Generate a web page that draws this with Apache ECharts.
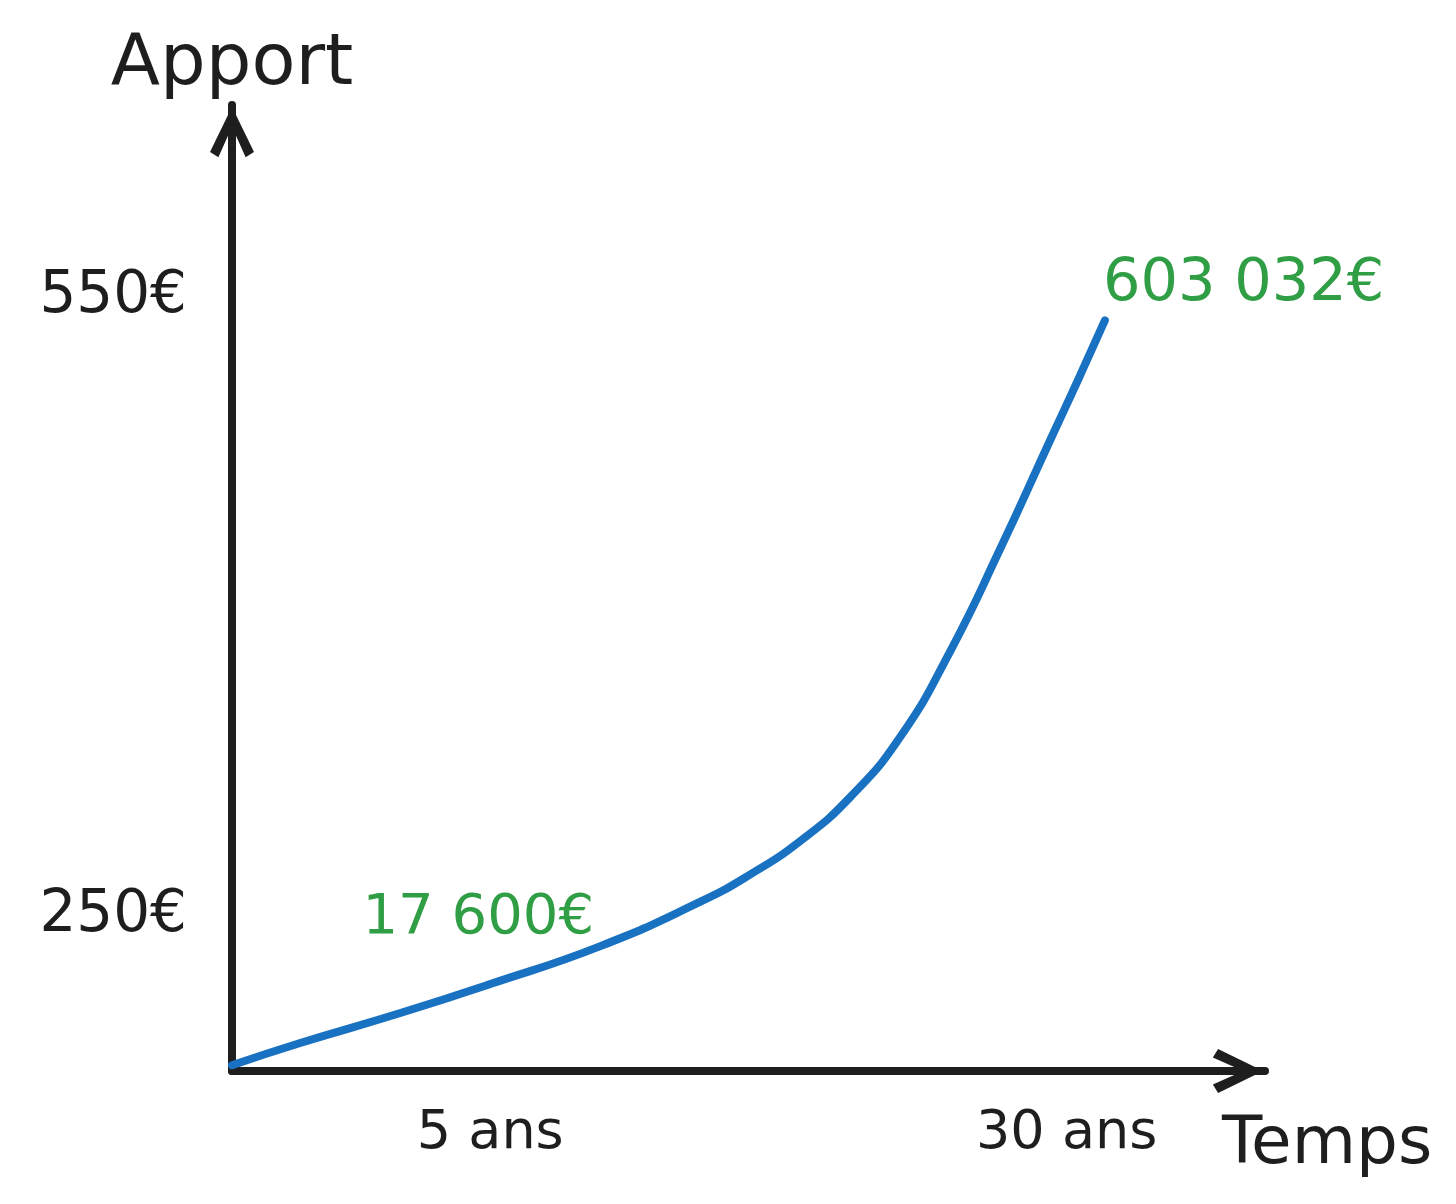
<!DOCTYPE html>
<html>
<head>
<meta charset="utf-8">
<title>Apport / Temps</title>
<script src="https://cdn.jsdelivr.net/npm/echarts@6/dist/echarts.min.js"></script>
<style>
  html, body { margin: 0; padding: 0; background: #fff; }
  #chart { width: 1456px; height: 1204px; }
</style>
</head>
<body>
<div id="chart"></div>
<script>
// time runs 0..100 along the arrow, apport 0..100 up the arrow (sketch units)
const timeX = [0, 6.6, 16.3, 25, 35.6, 45.3, 50.1, 55.0, 59.8, 64.7, 69.5, 74.3, 79.2, 82.1, 84.5];
const apportY = [0.6, 2.9, 6.0, 9.0, 12.9, 17.5, 20.3, 23.8, 28.3, 34.6, 43.4, 53.9, 65.3, 72.0, 77.7];

const xTickValues = [25, 80.8];
const xTickLabels = ['5 ans', '30 ans'];
const yTickValues = [16.1, 80.1];
const yTickLabels = ['250€', '550€'];

const startLabel = '17 600€';
const endLabel = '603 032€';

const ink = '#1e1e1e';
const green = '#2f9e44';
const blue = '#1971c2';
const font = 'DejaVu Sans';

// open chevron head, pointing up (echarts turns it along the axis)
const chevron = 'path://M21,0 L42,43 L34,48 L21,19 L8,48 L0,43 Z';

const points = timeX.map((x, i) => [x, apportY[i]]);

let myCharts = echarts.init(document.getElementById('chart'));
let option = {
  animation: false,
  backgroundColor: '#fff',
  textStyle: { fontFamily: font, color: ink },
  grid: { left: 232, right: 191, top: 105, bottom: 133 },
  xAxis: {
    type: 'value',
    min: 0,
    max: 100,
    name: 'Temps',
    nameLocation: 'end',
    nameGap: -43,
    nameTextStyle: {
      fontSize: 66, color: ink, fontFamily: font,
      align: 'left', verticalAlign: 'top', padding: [42, 0, 0, 0]
    },
    axisLine: {
      lineStyle: { color: ink, width: 8, cap: 'round' },
      symbol: ['none', chevron],
      symbolSize: [44, 54],
      symbolOffset: [0, -27]
    },
    axisTick: { show: false },
    splitLine: { show: false },
    axisLabel: {
      customValues: xTickValues,
      formatter: v => xTickLabels[xTickValues.indexOf(v)],
      fontSize: 54,
      color: ink,
      margin: 36
    }
  },
  yAxis: {
    type: 'value',
    min: 0,
    max: 100,
    name: 'Apport',
    nameLocation: 'end',
    nameGap: 4,
    nameTextStyle: { fontSize: 72, color: ink, fontFamily: font, verticalAlign: 'bottom' },
    axisLine: {
      lineStyle: { color: ink, width: 8, cap: 'round' },
      symbol: ['none', chevron],
      symbolSize: [44, 54],
      symbolOffset: [0, -27]
    },
    axisTick: { show: false },
    splitLine: { show: false },
    axisLabel: {
      customValues: yTickValues,
      formatter: v => yTickLabels[yTickValues.indexOf(v)],
      fontSize: 58,
      color: ink,
      margin: 45
    }
  },
  series: [
    {
      type: 'line',
      data: points,
      smooth: true,
      showSymbol: false,
      lineStyle: { color: blue, width: 8, cap: 'round' },
      endLabel: {
        show: true,
        formatter: endLabel,
        color: green,
        fontSize: 59,
        fontFamily: font,
        offset: [-10, -36]
      },
      markPoint: {
        symbol: 'circle',
        symbolSize: 1,
        itemStyle: { color: 'transparent' },
        label: {
          show: true,
          position: 'inside',
          formatter: startLabel,
          color: green,
          fontSize: 56,
          fontFamily: font,
          offset: [-12, -66]
        },
        data: [{ coord: points[3] }]
      }
    }
  ]
};
myCharts.setOption(option);
window.addEventListener('resize', function () {
  myCharts.resize();
});
</script>
</body>
</html>
